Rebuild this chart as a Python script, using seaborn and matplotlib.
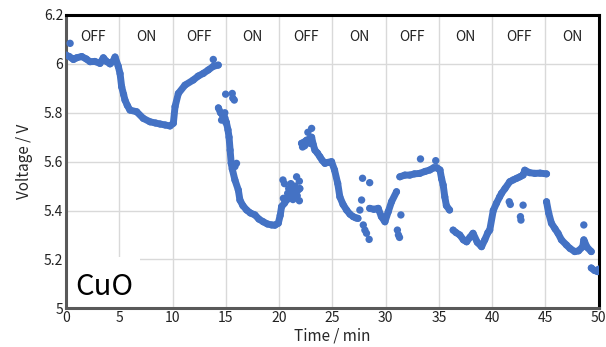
import matplotlib
matplotlib.use("Agg")
import matplotlib.pyplot as plt
import seaborn as sns
import numpy as np
import pandas as pd
from matplotlib.patches import Rectangle

# main trace (time in min, voltage in V), split where the trace breaks
seg_t = [
    [0, 0.3, 0.69, 1.0, 1.47, 1.9, 2.25, 2.7, 3.19, 3.5, 3.8, 4.13, 4.4, 4.6, 4.9, 5.07, 5.22, 5.4,
     5.53, 5.75, 6.0, 6.63, 7.25, 7.88, 8.4, 8.82, 9.3, 9.76, 10.07, 10.23, 10.54, 11.16, 11.94,
     12.4, 12.88, 13.35, 13.82, 14.29],
    [14.3, 14.5, 14.7, 14.9, 15.05, 15.2, 15.3, 15.4, 15.5, 15.6, 15.85, 16.17, 16.32, 16.6, 16.95,
     17.3, 17.73, 18.1, 18.51, 18.9, 19.3, 19.6, 19.92, 20.1, 20.23, 20.5, 20.7, 21.1, 21.48, 21.95],
    [22.1, 22.35, 22.58, 22.8, 23.05, 23.2, 23.36, 23.6, 23.83, 24.05, 24.3, 24.6, 24.92, 25.2,
     25.5, 25.7, 26.0, 26.33, 26.65, 26.95, 27.2, 27.4],
    [28.5, 28.9, 29.3, 29.6, 29.93, 30.24, 30.55, 31.02],
    [31.33, 31.8, 32.27, 32.7, 33.2, 33.7, 34.15, 34.5, 34.8, 35.1, 35.25, 35.4, 35.55, 35.7, 36.0],
    [36.33, 36.6, 36.96, 37.3, 37.6, 37.9, 38.2, 38.6, 39.0, 39.3, 39.6, 39.77, 40.1, 40.4, 40.7,
     40.87, 41.2, 41.65, 41.96, 42.3, 42.6, 42.9, 43.06, 43.5, 44.0, 44.5, 45.1],
    [45.1, 45.3, 45.56, 45.9, 46.18, 46.5, 46.97, 47.3, 47.75, 48.1, 48.5, 48.6, 48.9, 49.3],
    [49.3, 49.6, 49.9, 50.0],
]
seg_v = [
    [6.036, 6.03, 6.018, 6.025, 6.03, 6.02, 6.009, 6.01, 6.002, 6.025, 6.01, 6.0, 6.01, 6.028, 5.99,
     5.96, 5.906, 5.875, 5.852, 5.83, 5.811, 5.804, 5.777, 5.763, 5.758, 5.754, 5.75, 5.746, 5.757,
     5.825, 5.879, 5.913, 5.934, 5.95, 5.961, 5.975, 5.99, 5.995],
    [5.82, 5.80, 5.79, 5.78, 5.76, 5.73, 5.70, 5.647, 5.594, 5.57, 5.525, 5.484, 5.443, 5.42, 5.402,
     5.39, 5.382, 5.365, 5.354, 5.345, 5.341, 5.34, 5.348, 5.38, 5.416, 5.43, 5.443, 5.455, 5.47, 5.49],
    [5.675, 5.68, 5.688, 5.69, 5.70, 5.67, 5.647, 5.635, 5.62, 5.605, 5.593, 5.597, 5.60, 5.566,
     5.511, 5.456, 5.425, 5.402, 5.385, 5.375, 5.37, 5.368],
    [5.409, 5.405, 5.409, 5.375, 5.354, 5.395, 5.436, 5.477],
    [5.538, 5.545, 5.545, 5.55, 5.552, 5.56, 5.566, 5.575, 5.575, 5.566, 5.53, 5.504, 5.456, 5.42, 5.402],
    [5.32, 5.31, 5.30, 5.28, 5.272, 5.29, 5.307, 5.27, 5.252, 5.28, 5.31, 5.32, 5.40, 5.43, 5.456,
     5.47, 5.49, 5.518, 5.525, 5.532, 5.538, 5.545, 5.565, 5.555, 5.552, 5.553, 5.55],
    [5.436, 5.39, 5.348, 5.325, 5.307, 5.28, 5.259, 5.245, 5.232, 5.235, 5.252, 5.28, 5.25, 5.232],
    [5.165, 5.155, 5.15, 5.16],
]

# stray points and thick noisy patches
stray_t = [0.38, 13.82, 14.98, 15.6, 15.65, 15.79, 16.0, 15.85, 20.36, 20.5, 21.1, 21.64, 20.4,
           21.9, 21.7, 22.2, 22.7, 23.05, 27.58, 27.74, 27.83, 28.5, 27.9, 28.05, 28.2, 28.45,
           31.43, 31.1, 31.2, 31.3, 33.27, 34.7, 41.6, 41.7, 42.9, 42.7, 42.65, 48.6,
           14.6, 14.9, 15.0, 20.8, 21.2, 21.5, 21.9, 21.3, 20.9, 22.4, 22.9]
stray_v = [6.084, 6.018, 5.876, 5.879, 5.86, 5.852, 5.593, 5.58, 5.525, 5.51, 5.51, 5.538, 5.45,
           5.44, 5.46, 5.66, 5.72, 5.736, 5.402, 5.443, 5.532, 5.514, 5.341, 5.32, 5.307, 5.282,
           5.382, 5.32, 5.30, 5.29, 5.611, 5.604, 5.436, 5.425, 5.422, 5.361, 5.375, 5.341,
           5.77, 5.80, 5.76, 5.47, 5.48, 5.50, 5.52, 5.445, 5.49, 5.665, 5.675]

phase_x = [2.5, 7.5, 12.5, 17.5, 22.5, 27.5, 32.5, 37.5, 42.5, 47.5]
phase_lbl = ["OFF", "ON", "OFF", "ON", "OFF", "ON", "OFF", "ON", "OFF", "ON"]

blue = "#4472C4"

sns.set_theme(style="whitegrid", rc={"grid.color": "#d9d9d9", "grid.linewidth": 1.0})
plt.rcParams['font.family'] = ['Noto Sans CJK JP', 'DejaVu Sans']

fig = plt.figure(figsize=(6.06, 3.47), dpi=100)
ax = fig.add_axes([0.109, 0.1115, 0.879, 0.8453])

for t, v in zip(seg_t, seg_v):
    df = pd.DataFrame({"t": t, "v": v})
    sns.lineplot(data=df, x="t", y="v", sort=False, estimator=None, color=blue, lw=5,
                 solid_capstyle="round", ax=ax, zorder=3)
    sns.scatterplot(data=df, x="t", y="v", color=blue, s=26, edgecolor="none", ax=ax, zorder=3)

sns.scatterplot(x=stray_t, y=stray_v, color=blue, s=28, edgecolor="none", ax=ax, zorder=3)

ax.set_xlim(0, 50)
ax.set_ylim(5, 6.2)
ax.set_xticks(np.arange(0, 51, 5))
ax.set_yticks(np.arange(5, 6.21, 0.2))
ax.set_yticklabels(["5", "5.2", "5.4", "5.6", "5.8", "6", "6.2"])
ax.tick_params(axis="both", labelsize=10, pad=2, length=0, colors="#222222")
ax.set_xlabel("Time / min", fontsize=11, labelpad=2)
ax.set_ylabel("Voltage / V", fontsize=11, labelpad=8)

for x, s in zip(phase_x, phase_lbl):
    ax.text(x, 6.11, s, ha="center", va="center", fontsize=10, color="#222222")

# white patch behind the sample label
ax.add_patch(Rectangle((0, 5), 6.9, 0.21, facecolor="white", edgecolor="none", zorder=1.5))
ax.text(0.9, 5.025, "CuO", fontsize=21, ha="left", va="bottom", color="black", zorder=4)

for side in ["top", "right"]:
    ax.spines[side].set_color("black")
    ax.spines[side].set_linewidth(2.2)
for side in ["left", "bottom"]:
    ax.spines[side].set_color("#595959")
    ax.spines[side].set_linewidth(2.2)

fig.savefig("out.png", dpi=100)
